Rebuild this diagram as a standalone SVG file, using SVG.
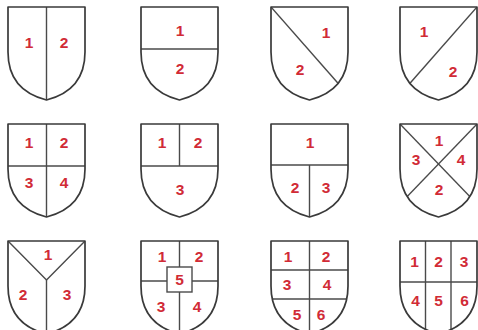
<svg xmlns="http://www.w3.org/2000/svg" xmlns:xlink="http://www.w3.org/1999/xlink" width="478" height="330" viewBox="0 0 478 330">
<style>
.bg{fill:#ffffff}
.sh{fill:#ffffff}
.out{fill:none;stroke:#3a3a3a;stroke-width:1.7;stroke-linejoin:round}
.ln{fill:none;stroke:#4a4a4a;stroke-width:1.4}
.box{fill:#ffffff;stroke:#4a4a4a;stroke-width:1.4}
text{font-family:"Liberation Sans",Arial,sans-serif;font-weight:bold;font-size:15.5px;fill:#d12b36;text-anchor:middle}
</style>
<defs>
<path id="shield" d="M0,0 H77 V45 C77,72 62,87 38.5,93 C15,87 0,72 0,45 Z"/>
<clipPath id="clip" clipPathUnits="userSpaceOnUse"><use xlink:href="#shield" href="#shield"/></clipPath>
</defs>
<rect class="bg" x="0" y="0" width="478" height="330"/>

<g id="shield-1" transform="translate(8,7)">
<use href="#shield" xlink:href="#shield" class="sh"/>
<g clip-path="url(#clip)"><line class="ln" x1="38.5" y1="0" x2="38.5" y2="95"/></g>
<use href="#shield" xlink:href="#shield" class="out"/>
<text x="21" y="41">1</text><text x="56" y="41">2</text>
</g>

<g id="shield-2" transform="translate(141,7)">
<use href="#shield" xlink:href="#shield" class="sh"/>
<g clip-path="url(#clip)"><line class="ln" x1="0" y1="42" x2="77" y2="42"/></g>
<use href="#shield" xlink:href="#shield" class="out"/>
<text x="39" y="29">1</text><text x="39" y="67">2</text>
</g>

<g id="shield-3" transform="translate(271,7)">
<use href="#shield" xlink:href="#shield" class="sh"/>
<g clip-path="url(#clip)"><line class="ln" x1="0" y1="0" x2="87" y2="99"/></g>
<use href="#shield" xlink:href="#shield" class="out"/>
<text x="55" y="31">1</text><text x="29" y="68">2</text>
</g>

<g id="shield-4" transform="translate(400,7)">
<use href="#shield" xlink:href="#shield" class="sh"/>
<g clip-path="url(#clip)"><line class="ln" x1="77" y1="0" x2="-10" y2="99"/></g>
<use href="#shield" xlink:href="#shield" class="out"/>
<text x="24" y="30">1</text><text x="53" y="70">2</text>
</g>

<g id="shield-5" transform="translate(8,124)">
<use href="#shield" xlink:href="#shield" class="sh"/>
<g clip-path="url(#clip)"><line class="ln" x1="38.5" y1="0" x2="38.5" y2="95"/><line class="ln" x1="0" y1="42" x2="77" y2="42"/></g>
<use href="#shield" xlink:href="#shield" class="out"/>
<text x="21" y="24">1</text><text x="56" y="24">2</text><text x="21" y="64">3</text><text x="56" y="64">4</text>
</g>

<g id="shield-6" transform="translate(141,124)">
<use href="#shield" xlink:href="#shield" class="sh"/>
<g clip-path="url(#clip)"><line class="ln" x1="0" y1="42" x2="77" y2="42"/><line class="ln" x1="38.5" y1="0" x2="38.5" y2="42"/></g>
<use href="#shield" xlink:href="#shield" class="out"/>
<text x="21" y="24">1</text><text x="57" y="24">2</text><text x="39" y="71">3</text>
</g>

<g id="shield-7" transform="translate(271,124)">
<use href="#shield" xlink:href="#shield" class="sh"/>
<g clip-path="url(#clip)"><line class="ln" x1="0" y1="41" x2="77" y2="41"/><line class="ln" x1="38.5" y1="41" x2="38.5" y2="95"/></g>
<use href="#shield" xlink:href="#shield" class="out"/>
<text x="39" y="24">1</text><text x="24" y="69">2</text><text x="55" y="69">3</text>
</g>

<g id="shield-8" transform="translate(400,124)">
<use href="#shield" xlink:href="#shield" class="sh"/>
<g clip-path="url(#clip)"><line class="ln" x1="0" y1="0" x2="96.25" y2="100"/><line class="ln" x1="77" y1="0" x2="-19.25" y2="100"/></g>
<use href="#shield" xlink:href="#shield" class="out"/>
<text x="39" y="22">1</text><text x="16" y="41">3</text><text x="61" y="41">4</text><text x="39" y="71">2</text>
</g>

<g id="shield-9" transform="translate(8,241)">
<use href="#shield" xlink:href="#shield" class="sh"/>
<g clip-path="url(#clip)"><polyline class="ln" points="0,0 38.5,39 77,0"/><line class="ln" x1="38.5" y1="39" x2="38.5" y2="95"/></g>
<use href="#shield" xlink:href="#shield" class="out"/>
<text x="40" y="19">1</text><text x="15" y="59">2</text><text x="59" y="59">3</text>
</g>

<g id="shield-10" transform="translate(141,241)">
<use href="#shield" xlink:href="#shield" class="sh"/>
<g clip-path="url(#clip)"><line class="ln" x1="38.5" y1="0" x2="38.5" y2="95"/><line class="ln" x1="0" y1="40" x2="77" y2="40"/></g>
<rect class="box" x="26" y="26" width="25" height="25"/>
<use href="#shield" xlink:href="#shield" class="out"/>
<text x="21" y="21">1</text><text x="58" y="21">2</text><text x="38.5" y="44">5</text><text x="20" y="71">3</text><text x="56" y="71">4</text>
</g>

<g id="shield-11" transform="translate(271,241)">
<use href="#shield" xlink:href="#shield" class="sh"/>
<g clip-path="url(#clip)"><line class="ln" x1="38.5" y1="0" x2="38.5" y2="95"/><line class="ln" x1="0" y1="29" x2="77" y2="29"/><line class="ln" x1="0" y1="58" x2="77" y2="58"/></g>
<use href="#shield" xlink:href="#shield" class="out"/>
<text x="17" y="21">1</text><text x="55" y="21">2</text><text x="16" y="49">3</text><text x="56" y="49">4</text><text x="26" y="79">5</text><text x="50" y="79">6</text>
</g>

<g id="shield-12" transform="translate(400,241)">
<use href="#shield" xlink:href="#shield" class="sh"/>
<g clip-path="url(#clip)"><line class="ln" x1="25.5" y1="0" x2="25.5" y2="95"/><line class="ln" x1="51" y1="0" x2="51" y2="95"/><line class="ln" x1="0" y1="41" x2="77" y2="41"/></g>
<use href="#shield" xlink:href="#shield" class="out"/>
<text x="14.5" y="26">1</text><text x="38.5" y="26">2</text><text x="64" y="26">3</text><text x="15.5" y="65">4</text><text x="38.5" y="65">5</text><text x="64.5" y="65">6</text>
</g>
</svg>
